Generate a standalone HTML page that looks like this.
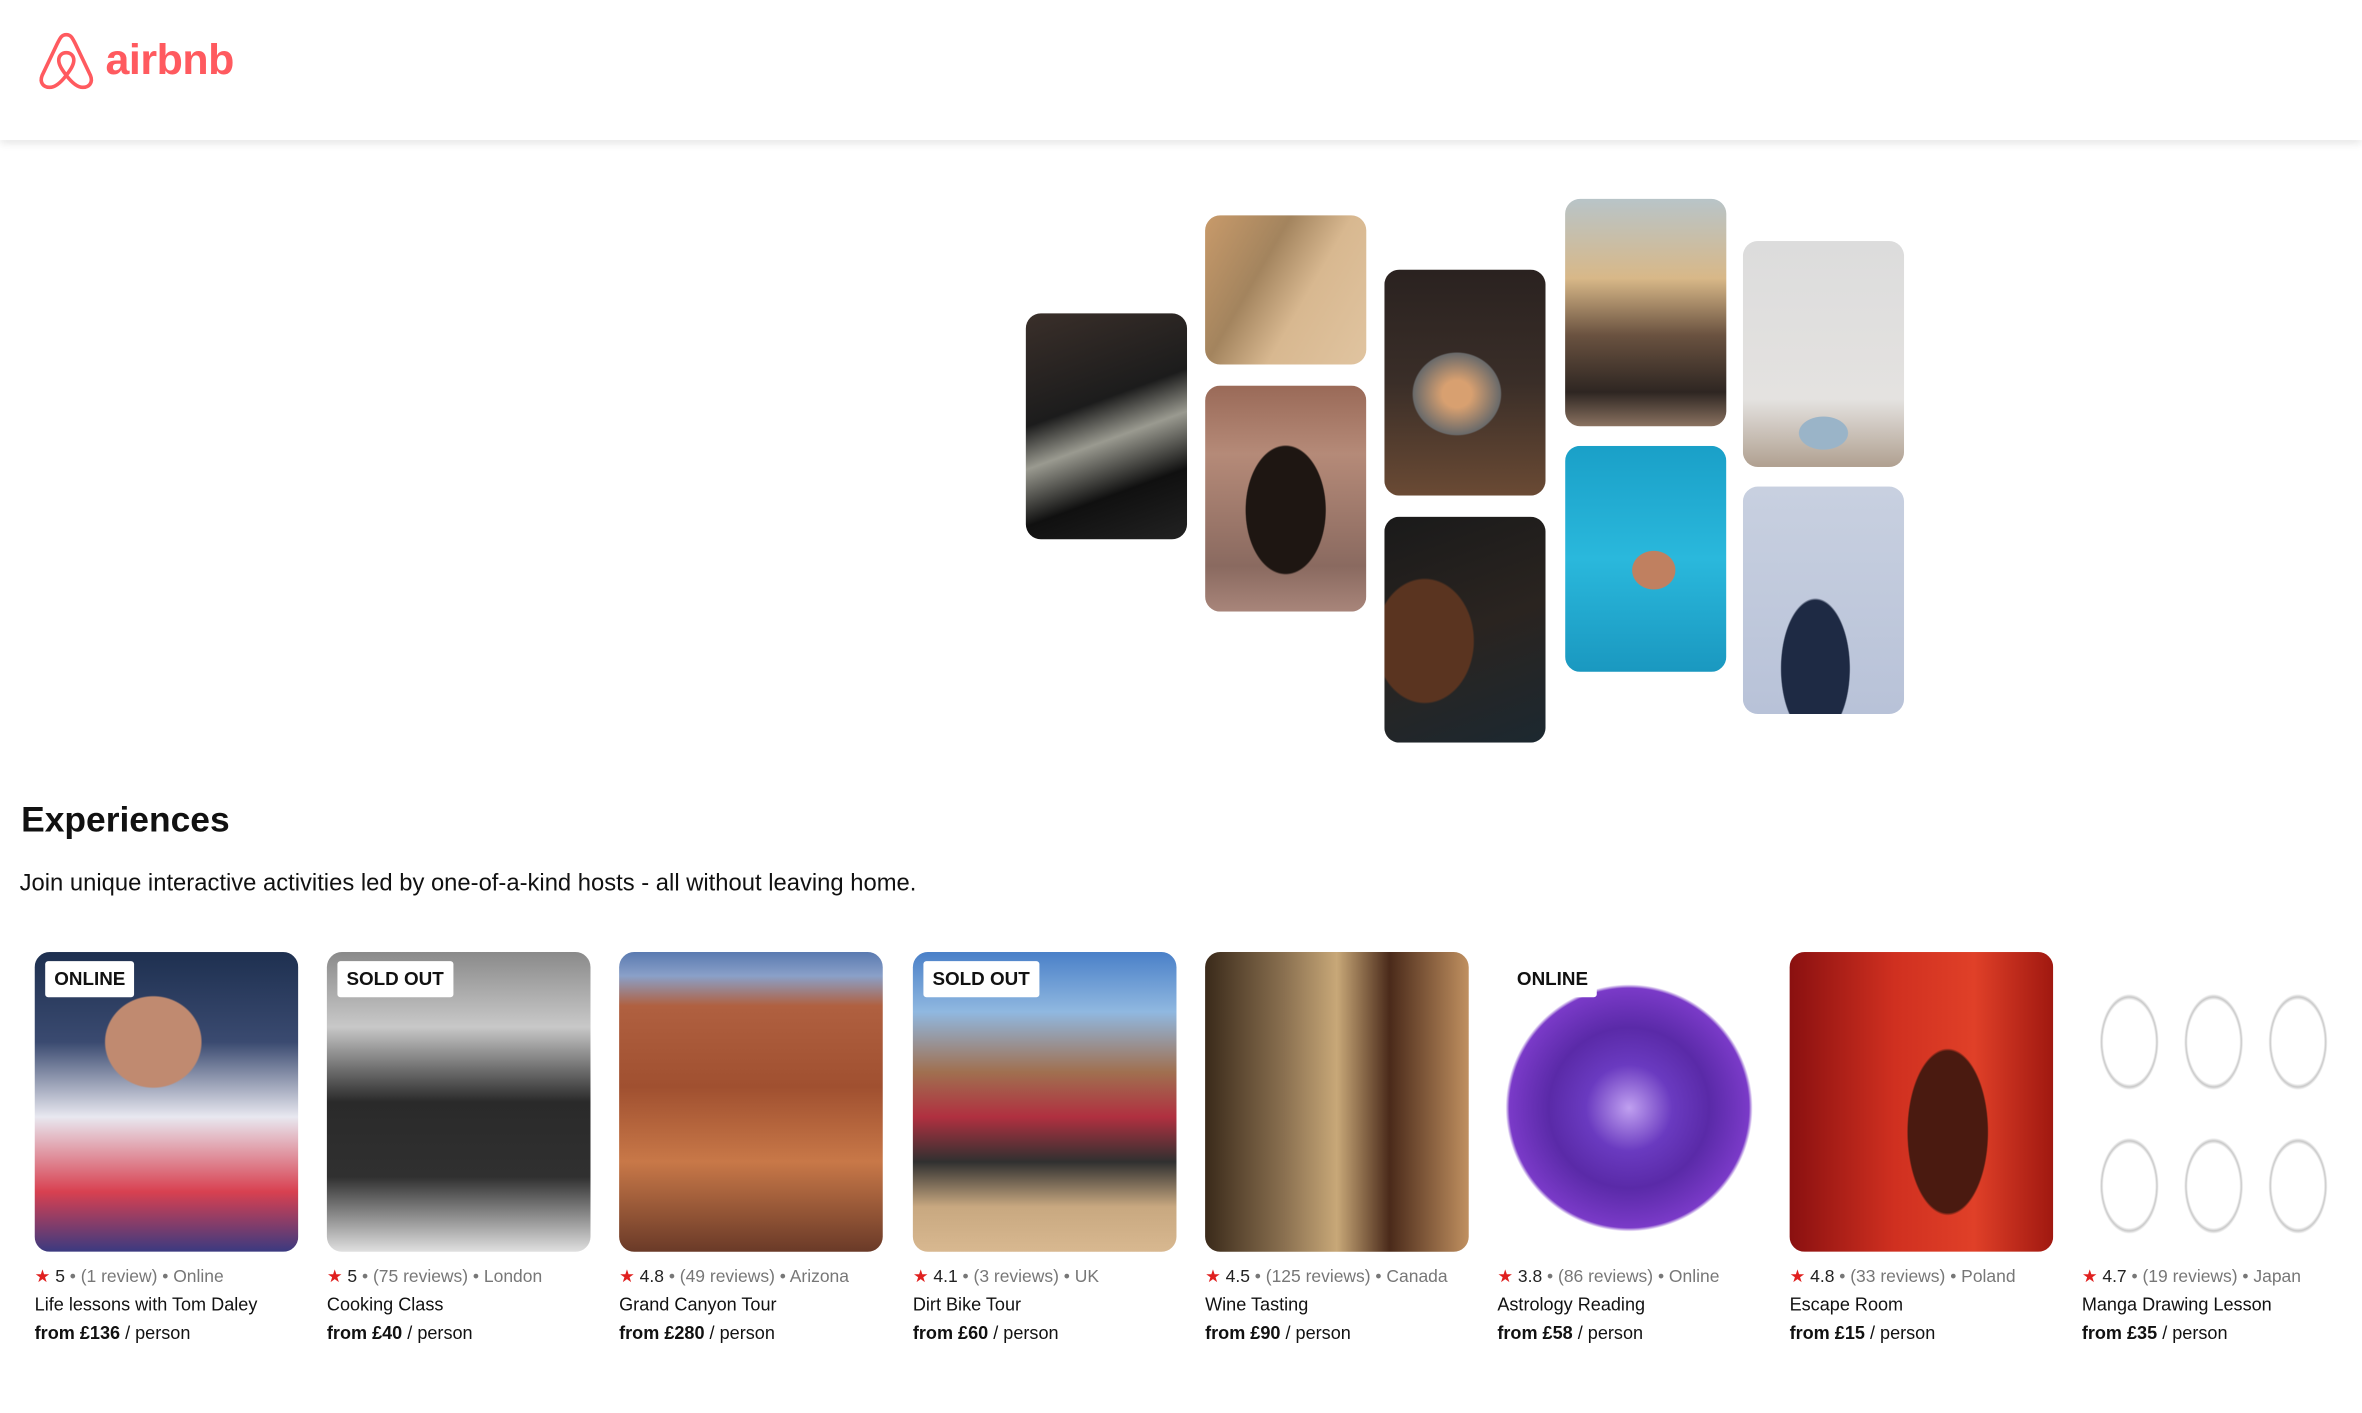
<!DOCTYPE html>
<html><head><meta charset="utf-8"><style>
html,body{margin:0;padding:0;background:#fff;width:2362px;height:1412px;overflow:hidden}
#wrap{position:absolute;left:0;top:0;width:1568px;height:938px;transform:scale(1.50638);transform-origin:0 0;font-family:"Liberation Sans",Arial,sans-serif;color:#111}
.hdr{position:absolute;left:0;top:0;width:1568px;height:93px;background:#fff;box-shadow:0 2px 6px rgba(0,0,0,.12)}
.logo-text{position:absolute;left:70px;top:24px;font-size:28.5px;font-weight:bold;color:#FF5A5F;letter-spacing:-0.3px}
.ph{position:absolute;width:107px;border-radius:10px;overflow:hidden}
.card{position:absolute;top:632px;width:175px}
.cimg{width:175px;height:199px;border-radius:10px;position:relative;overflow:hidden}
.badge{position:absolute;left:7px;top:6px;height:24px;line-height:24px;padding:0 6px;background:#fff;font-weight:bold;font-size:12.5px;border-radius:2px}
.rt{position:absolute;top:840px;font-size:11.6px;color:#777;white-space:nowrap}
.rt b{color:#222;font-weight:normal}
.rt .st{color:#e0201f}
.tt{position:absolute;top:859px;font-size:12px;white-space:nowrap}
.pr{position:absolute;top:878px;font-size:12px;white-space:nowrap}
</style></head><body>
<div id="wrap">
<div class="hdr">
 <svg style="position:absolute;left:24px;top:21px" width="40" height="39" viewBox="0 0 40 39"><path d="M20 2 C17 2 16 4 14 8 L4 29 C2 34 5 37 9 37 C13 37 17 33 20 29 C23 33 27 37 31 37 C35 37 38 34 36 29 L26 8 C24 4 23 2 20 2 Z M20 29 C17 25 15 22 15 19 C15 16 17 14 20 14 C23 14 25 16 25 19 C25 22 23 25 20 29 Z" fill="none" stroke="#FF5A5F" stroke-width="2.4"/></svg>
 <div class="logo-text">airbnb</div>
</div>

<div class="ph" style="left:681px;top:208px;height:150px;background:linear-gradient(160deg,#3a2f2a 0%,#1c1c1c 40%,#9a9a90 55%,#101010 75%,#222 100%)"></div>
<div class="ph" style="left:800px;top:143px;height:99px;background:linear-gradient(120deg,#c89a6a 0%,#a3845e 35%,#d8b890 60%,#e0c4a0 100%)"></div>
<div class="ph" style="left:800px;top:256px;height:150px;background:radial-gradient(ellipse 35% 40% at 50% 55%,#1e1612 70%,transparent 72%),linear-gradient(180deg,#9a6a58 0%,#b58a78 30%,#8a6a60 80%,#a8857a 100%)"></div>
<div class="ph" style="left:919px;top:179px;height:150px;background:radial-gradient(ellipse 45% 30% at 45% 55%,#d8a070 20%,#6a6a6a 60%,transparent 62%),linear-gradient(180deg,#2a2220 0%,#3a2e28 50%,#6a4a34 100%)"></div>
<div class="ph" style="left:919px;top:343px;height:150px;background:radial-gradient(ellipse 50% 45% at 25% 55%,#5a3420 60%,transparent 62%),linear-gradient(160deg,#1a1a1a 0%,#2a2420 50%,#1c2830 100%)"></div>
<div class="ph" style="left:1039px;top:132px;height:151px;background:linear-gradient(180deg,#b8c4c8 0%,#d8b888 35%,#6a5240 60%,#2e2622 85%,#8a7260 100%)"></div>
<div class="ph" style="left:1039px;top:296px;height:150px;background:radial-gradient(ellipse 22% 14% at 55% 55%,#c08060 60%,transparent 62%),linear-gradient(180deg,#1aa0c8 0%,#2ab8dc 50%,#1a98c0 100%)"></div>
<div class="ph" style="left:1157px;top:160px;height:150px;background:radial-gradient(ellipse 25% 12% at 50% 85%,#9ab4c8 60%,transparent 62%),linear-gradient(180deg,#dcdcdc 0%,#e4e2e0 70%,#b0a090 100%)"></div>
<div class="ph" style="left:1157px;top:323px;height:151px;background:radial-gradient(ellipse 35% 50% at 45% 80%,#1e2a44 60%,transparent 62%),linear-gradient(180deg,#c8d0e0 0%,#b8c2d8 100%)"></div>

<div style="position:absolute;left:14px;top:531px;font-size:23.5px;font-weight:bold">Experiences</div>
<div style="position:absolute;left:13px;top:578px;font-size:15.8px">Join unique interactive activities led by one-of-a-kind hosts - all without leaving home.</div>

<div class="card" style="left:23px"><div class="cimg" style="background:radial-gradient(ellipse 30% 25% at 45% 30%,#c08a70 60%,transparent 62%),linear-gradient(180deg,#1e3050 0%,#3a4a70 30%,#e8e8f0 55%,#d84050 80%,#3a3a80 100%)"><div class="badge">ONLINE</div></div></div>
<div class="rt" style="left:23px"><span class="st">★</span> <b>5</b> • (1 review) • Online</div>
<div class="tt" style="left:23px">Life lessons with Tom Daley</div>
<div class="pr" style="left:23px"><b>from £136</b> / person</div>

<div class="card" style="left:217px"><div class="cimg" style="background:linear-gradient(180deg,#8a8a8a 0%,#c8c8c8 25%,#2a2a2a 50%,#303030 75%,#e0e0e0 100%)"><div class="badge">SOLD OUT</div></div></div>
<div class="rt" style="left:217px"><span class="st">★</span> <b>5</b> • (75 reviews) • London</div>
<div class="tt" style="left:217px">Cooking Class</div>
<div class="pr" style="left:217px"><b>from £40</b> / person</div>

<div class="card" style="left:411px"><div class="cimg" style="background:linear-gradient(180deg,#5a7ab0 0%,#8aa0c8 8%,#b06040 18%,#a05030 45%,#c87848 70%,#6a3a28 100%)"></div></div>
<div class="rt" style="left:411px"><span class="st">★</span> <b>4.8</b> • (49 reviews) • Arizona</div>
<div class="tt" style="left:411px">Grand Canyon Tour</div>
<div class="pr" style="left:411px"><b>from £280</b> / person</div>

<div class="card" style="left:606px"><div class="cimg" style="background:linear-gradient(180deg,#4a80c8 0%,#90b8e0 20%,#a07050 40%,#b03040 55%,#303030 70%,#c8a880 85%,#d8b890 100%)"><div class="badge">SOLD OUT</div></div></div>
<div class="rt" style="left:606px"><span class="st">★</span> <b>4.1</b> • (3 reviews) • UK</div>
<div class="tt" style="left:606px">Dirt Bike Tour</div>
<div class="pr" style="left:606px"><b>from £60</b> / person</div>

<div class="card" style="left:800px"><div class="cimg" style="background:linear-gradient(90deg,#3a2a1a 0%,#8a7050 30%,#c8a878 50%,#4a2a1a 70%,#c09060 100%)"></div></div>
<div class="rt" style="left:800px"><span class="st">★</span> <b>4.5</b> • (125 reviews) • Canada</div>
<div class="tt" style="left:800px">Wine Tasting</div>
<div class="pr" style="left:800px"><b>from £90</b> / person</div>

<div class="card" style="left:994px"><div class="cimg" style="background:radial-gradient(circle 82px at 50% 52%,#c0a0f0 0%,#6a3ac0 35%,#5a2aa8 65%,#7a3ac8 97%,#fff 100%)"><div class="badge">ONLINE</div></div></div>
<div class="rt" style="left:994px"><span class="st">★</span> <b>3.8</b> • (86 reviews) • Online</div>
<div class="tt" style="left:994px">Astrology Reading</div>
<div class="pr" style="left:994px"><b>from £58</b> / person</div>

<div class="card" style="left:1188px"><div class="cimg" style="background:radial-gradient(ellipse 25% 45% at 60% 60%,#4a1a10 60%,transparent 62%),linear-gradient(90deg,#8a1010 0%,#d03020 40%,#e04028 70%,#a01810 100%)"></div></div>
<div class="rt" style="left:1188px"><span class="st">★</span> <b>4.8</b> • (33 reviews) • Poland</div>
<div class="tt" style="left:1188px">Escape Room</div>
<div class="pr" style="left:1188px"><b>from £15</b> / person</div>

<div class="card" style="left:1382px"><div class="cimg" style="background:radial-gradient(ellipse 14% 20% at 18% 30%,#fff 70%,#c8c8c8 75%,transparent 80%),radial-gradient(ellipse 14% 20% at 50% 30%,#fff 70%,#c8c8c8 75%,transparent 80%),radial-gradient(ellipse 14% 20% at 82% 30%,#fff 70%,#c8c8c8 75%,transparent 80%),radial-gradient(ellipse 14% 20% at 18% 78%,#fff 70%,#c8c8c8 75%,transparent 80%),radial-gradient(ellipse 14% 20% at 50% 78%,#fff 70%,#c8c8c8 75%,transparent 80%),radial-gradient(ellipse 14% 20% at 82% 78%,#fff 70%,#c8c8c8 75%,transparent 80%),#fff"></div></div>
<div class="rt" style="left:1382px"><span class="st">★</span> <b>4.7</b> • (19 reviews) • Japan</div>
<div class="tt" style="left:1382px">Manga Drawing Lesson</div>
<div class="pr" style="left:1382px"><b>from £35</b> / person</div>
</div>
</body></html>
